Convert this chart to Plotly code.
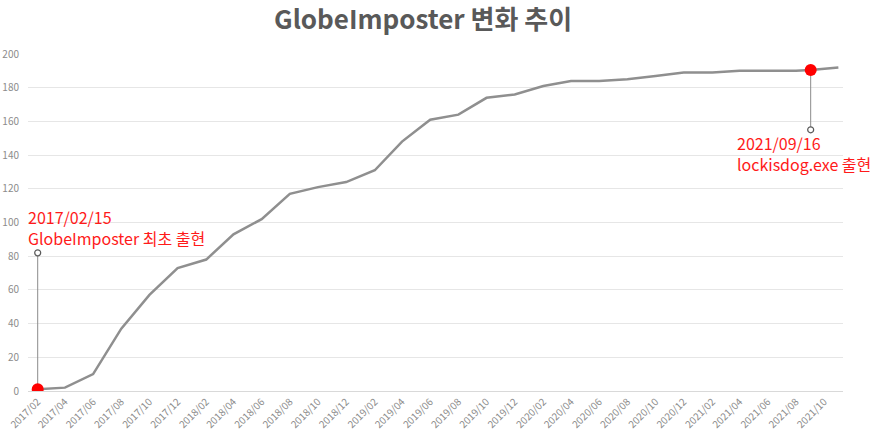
import plotly.graph_objects as go

# ---- data ----
dates = ["2017-02-15", "2017-04-15", "2017-06-15", "2017-08-15", "2017-10-15", "2017-12-15",
         "2018-02-15", "2018-04-15", "2018-06-15", "2018-08-15", "2018-10-15", "2018-12-15",
         "2019-02-15", "2019-04-15", "2019-06-15", "2019-08-15", "2019-10-15", "2019-12-15",
         "2020-02-15", "2020-04-15", "2020-06-15", "2020-08-15", "2020-10-15", "2020-12-15",
         "2021-02-15", "2021-04-15", "2021-06-15", "2021-08-15", "2021-09-16", "2021-11-15"]
counts = [1, 2, 10, 37, 57, 73,
          78, 93, 102, 117, 121, 124,
          131, 148, 161, 164, 174, 176,
          181, 184, 184, 185, 187, 189,
          189, 190, 190, 190, 190.5, 192]

tick_dates = ["2017-02-15", "2017-04-15", "2017-06-15", "2017-08-15", "2017-10-15", "2017-12-15",
              "2018-02-15", "2018-04-15", "2018-06-15", "2018-08-15", "2018-10-15", "2018-12-15",
              "2019-02-15", "2019-04-15", "2019-06-15", "2019-08-15", "2019-10-15", "2019-12-15",
              "2020-02-15", "2020-04-15", "2020-06-15", "2020-08-15", "2020-10-15", "2020-12-15",
              "2021-02-15", "2021-04-15", "2021-06-15", "2021-08-15", "2021-10-15"]
tick_labels = [d[:7].replace("-", "/") for d in tick_dates]

event_dates = ["2017-02-15", "2021-09-16"]
event_values = [1, 190.5]
event_label_y = [82, 155]
event_texts = ["2017/02/15<br>GlobeImposter 최초 출현", "2021/09/16<br>lockisdog.exe 출현"]

title_text = "GlobeImposter 변화 추이"

FONT = "Noto Sans CJK KR, Open Sans, sans-serif"

fig = go.Figure()

# stems for callouts
for d, v, ly in zip(event_dates, event_values, event_label_y):
    fig.add_trace(go.Scatter(
        x=[d, d], y=[v, ly], mode="lines",
        line=dict(color="#8c8c8c", width=1), hoverinfo="skip", showlegend=False))
    fig.add_trace(go.Scatter(
        x=[d], y=[ly], mode="markers",
        marker=dict(size=6, color="white", line=dict(color="#595959", width=1.2)),
        hoverinfo="skip", showlegend=False))

# main line
fig.add_trace(go.Scatter(
    x=dates, y=counts, mode="lines",
    line=dict(color="#8f8f8f", width=2.5), showlegend=False))

# red event points
fig.add_trace(go.Scatter(
    x=event_dates, y=event_values, mode="markers",
    marker=dict(size=12, color="#ff0000"), showlegend=False))

# callout texts
fig.add_annotation(x=event_dates[0], y=event_label_y[0], xref="x", yref="y",
                   text=event_texts[0], showarrow=False, align="left",
                   xanchor="left", yanchor="bottom", xshift=-12, yshift=1,
                   font=dict(family=FONT, size=16, color="#ff1a1a"))
fig.add_annotation(x=event_dates[1], y=event_label_y[1], xref="x", yref="y",
                   text=event_texts[1], showarrow=False, align="left",
                   xanchor="left", yanchor="top", xshift=-76, yshift=1,
                   font=dict(family=FONT, size=16, color="#ff1a1a"))

fig.update_layout(
    width=876, height=433,
    margin=dict(l=28, r=33, t=54, b=42),
    paper_bgcolor="white", plot_bgcolor="white",
    title=dict(text=title_text, x=0.483, xanchor="center", y=0.955, yanchor="middle",
               font=dict(family=FONT, size=26, color="#595959", weight="bold")),
    font=dict(family=FONT),
)
fig.update_xaxes(
    type="date", range=["2017-01-25", "2021-11-25"], automargin=False,
    tickmode="array", tickvals=tick_dates, ticktext=tick_labels,
    tickangle=-45, tickfont=dict(size=10, color="#8c8c8c"),
    showgrid=False, zeroline=False, showline=True, linecolor="#d9d9d9", ticks="")
fig.update_yaxes(
    range=[0, 200], tick0=0, dtick=20, automargin=False,
    tickfont=dict(size=10, color="#8c8c8c"),
    showgrid=True, gridcolor="#e6e6e6", gridwidth=1, zeroline=False,
    ticks="", ticklabelstandoff=8)

fig.write_html("out.html", config={"displayModeBar": False},
               post_script="document.body.style.margin='0';document.body.style.overflow='hidden';")
